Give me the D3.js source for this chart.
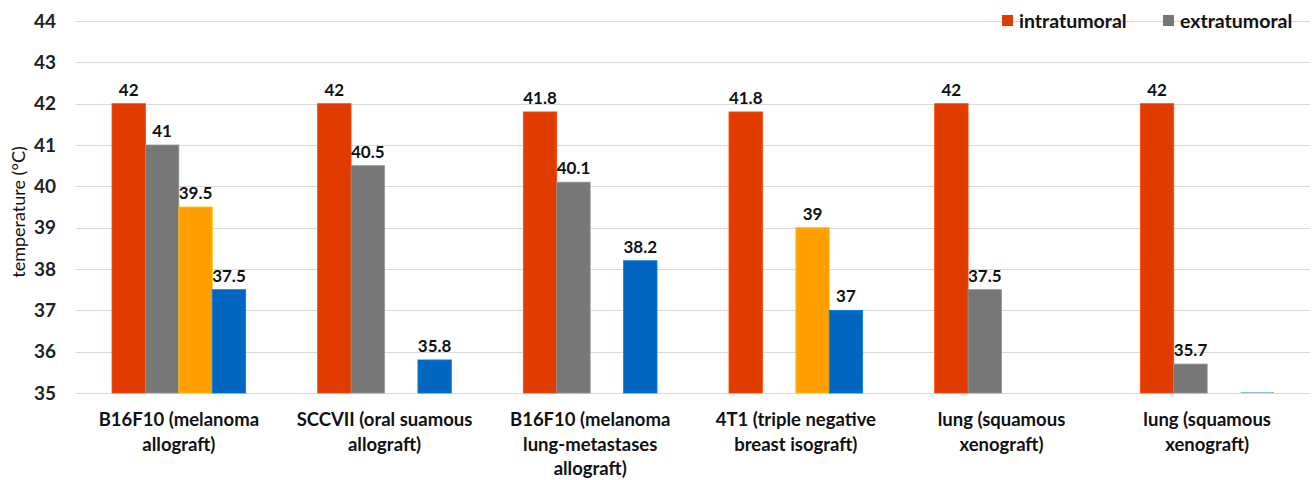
<!DOCTYPE html>
<html>
<head>
<meta charset="utf-8">
<script src="https://cdn.jsdelivr.net/npm/d3@7"></script>
<style>
  html, body { margin: 0; padding: 0; background: #fff; }
  svg { display: block; font-family: Lato, "Open Sans", sans-serif; }
</style>
</head>
<body>
<svg id="chart" width="1316" height="480"></svg>
<script>
// Tumour model categories (each label split into display lines)
const categories = [
  ["B16F10 (melanoma", "allograft)"],
  ["SCCVII (oral suamous", "allograft)"],
  ["B16F10 (melanoma", "lung-metastases", "allograft)"],
  ["4T1 (triple negative", "breast isograft)"],
  ["lung (squamous", "xenograft)"],
  ["lung (squamous", "xenograft)"]
];

// Temperatures in °C; null = no measurement
const intratumoral = [42, 42, 41.8, 41.8, 42, 42];
const extratumoral = [41, 40.5, 40.1, null, 37.5, 35.7];
const seriesC      = [39.5, null, null, 39, null, null];
const seriesD      = [37.5, 35.8, 38.2, 37, null, 35];

const yTicks = [35, 36, 37, 38, 39, 40, 41, 42, 43, 44];

const series = [
  { key: "intratumoral", values: intratumoral, color: "#E03C00", legend: true },
  { key: "extratumoral", values: extratumoral, color: "#777777", legend: true },
  { key: "c", values: seriesC, color: "#FFA000", legend: false },
  { key: "d", values: seriesD, color: "#0066C0", legend: false }
];

const svg = d3.select("#chart");
const margin = { left: 76, right: 6, top: 21, bottom: 87 };
const W = 1316, H = 480;

const x0 = d3.scaleBand()
  .domain(d3.range(categories.length))
  .range([margin.left, W - margin.right])
  .paddingInner(0.35)
  .paddingOuter(0.175);

const x1 = d3.scaleBand()
  .domain(series.map(s => s.key))
  .range([0, x0.bandwidth()]);

const y = d3.scaleLinear()
  .domain([35, 44])
  .range([H - margin.bottom, margin.top]);

// Gridlines
svg.append("g")
  .selectAll("line")
  .data(yTicks)
  .join("line")
  .attr("x1", margin.left)
  .attr("x2", W - margin.right)
  .attr("y1", d => Math.round(y(d)) + 0.5)
  .attr("y2", d => Math.round(y(d)) + 0.5)
  .attr("stroke", "#d9d9d9")
  .attr("stroke-width", 1);

// Y axis tick labels
const yAxis = d3.axisLeft(y).tickValues(yTicks).tickSize(0).tickPadding(0);
const gy = svg.append("g")
  .attr("transform", `translate(${56},0)`)
  .call(yAxis);
gy.select(".domain").remove();
gy.selectAll("text")
  .attr("font-family", "Lato, sans-serif")
  .attr("font-size", 19)
  .attr("font-weight", "bold")
  .attr("fill", "#222");

// Y axis title
svg.append("text")
  .attr("transform", `translate(25,${(y(35) + y(44)) / 2 + 5}) rotate(-90)`)
  .attr("text-anchor", "middle")
  .attr("font-size", 18)
  .attr("fill", "#111")
  .text("temperature (°C)");

// Bars (a value on the baseline is shown as a faint hairline)
const flat = [];
series.forEach(s => s.values.forEach((v, i) => {
  if (v !== null) flat.push({ key: s.key, i, v, color: s.color });
}));
const flat0 = d => y(35) - y(d.v) < 1;

const groups = svg.append("g");
groups.selectAll("rect")
  .data(flat)
  .join("rect")
  .attr("x", d => x0(d.i) + x1(d.key))
  .attr("width", x1.bandwidth())
  .attr("y", d => Math.min(y(d.v), y(35) - 1))
  .attr("height", d => Math.max(y(35) - y(d.v), 1))
  .attr("fill", d => flat0(d) ? d3.interpolateRgb(d.color, "#fff")(0.55) : d.color)
  .attr("stroke", d => d3.color(d.color).brighter(0.6))
  .attr("stroke-width", d => flat0(d) ? 0 : 0.8);

// Value labels
groups.selectAll("text")
  .data(flat.filter(d => d.v > 35))
  .join("text")
  .attr("x", d => x0(d.i) + x1(d.key) + x1.bandwidth() / 2)
  .attr("y", d => y(d.v) - 8)
  .attr("text-anchor", "middle")
  .attr("font-size", 17)
  .attr("font-weight", "bold")
  .attr("fill", "#111")
  .text(d => d.v);

// Category labels
const cat = svg.append("g")
  .selectAll("text")
  .data(categories)
  .join("text")
  .attr("text-anchor", "middle")
  .attr("font-size", 18.5)
  .attr("font-weight", "bold")
  .attr("fill", "#111")
  .attr("transform", (d, i) => `translate(${x0(i) + x0.bandwidth() / 2},0)`);
cat.selectAll("tspan")
  .data(d => d)
  .join("tspan")
  .attr("x", 0)
  .attr("y", (d, j) => 426 + j * 24.5)
  .text(d => d);

// Legend
const legendItems = series.filter(s => s.legend);
const legendX = [1002, 1163];
const lg = svg.append("g")
  .selectAll("g")
  .data(legendItems)
  .join("g")
  .attr("transform", (d, i) => `translate(${legendX[i]},${21})`);
lg.append("rect")
  .attr("x", 0).attr("y", -6)
  .attr("width", 11).attr("height", 11)
  .attr("fill", d => d.color);
lg.append("text")
  .attr("x", 17).attr("y", 7)
  .attr("font-size", 19.5)
  .attr("font-weight", "bold")
  .attr("fill", "#111")
  .text(d => d.key);
</script>
</body>
</html>
